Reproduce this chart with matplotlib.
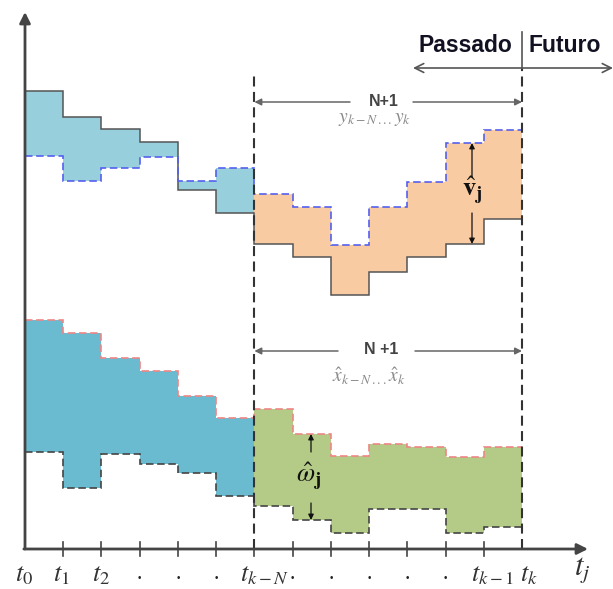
import numpy as np
import matplotlib
matplotlib.use("Agg")
import matplotlib.pyplot as plt

plt.rcParams['mathtext.fontset'] = 'stix'
plt.rcParams['font.family'] = ['Liberation Sans', 'DejaVu Sans']

# time steps t_0 ... t_k (interval edges), k-N at step 6
edges = np.arange(0, 14)
i_kN = 6
i_k = 13

# output signal: measured (solid) and estimated (blue dashed), per interval
y_meas = [458, 432, 420, 407, 359, 336, 305, 292, 254, 277, 292, 305, 330]
y_est = [393, 368, 381, 392, 368, 381, 355, 342, 304, 342, 367, 406, 419]

# state: upper (red dashed) and lower (dark dashed) bounds, per interval
x_upper = [229, 216, 191, 178, 153, 131, 140, 115, 93, 105, 102, 92, 102]
x_lower = [97, 61, 95, 85, 76, 53, 43, 29, 16, 40, 40, 16, 22]

tick_labels = ['$t_0$', '$t_1$', '$t_2$', '•', '•', '•', '$t_{k-N}$',
               '•', '•', '•', '•', '•', '$t_{k-1}$', '$t_k$']

# pixel -> data helpers (x: 38.23 px per step, y: 1 px per unit)
px = 38.23
W, H = 613, 589
x0_px, y0_px = 25, 549

fig = plt.figure(figsize=(W / 100, H / 100), dpi=100)
ax = fig.add_axes([0, 0, 1, 1])
ax.set_xlim(-x0_px / px, (W - x0_px) / px)
ax.set_ylim(y0_px - H, y0_px)
ax.axis('off')

y_meas = np.array(y_meas)
y_est = np.array(y_est)
x_upper = np.array(x_upper)
x_lower = np.array(x_lower)

past = slice(0, i_kN)
win = slice(i_kN, i_k)

# fills
ax.stairs(y_meas[past], edges[:i_kN + 1], baseline=y_est[past], fill=True,
          color='#97CFDD', lw=0)
ax.stairs(y_meas[win], edges[i_kN:], baseline=y_est[win], fill=True,
          color='#F9CBA3', lw=0)
ax.stairs(x_upper[past], edges[:i_kN + 1], baseline=x_lower[past], fill=True,
          color='#6BBBD0', lw=0)
ax.stairs(x_upper[win], edges[i_kN:], baseline=x_lower[win], fill=True,
          color='#B3CB87', lw=0)

# outlines
ax.stairs(y_meas, edges, baseline=None, color='#555555', lw=1.1)
ax.stairs(y_est, edges, baseline=None, color='#5560EE', lw=1.2,
          linestyle=(0, (4.5, 2.2)))
ax.stairs(x_upper, edges, baseline=None, color='#F08585', lw=1.2,
          linestyle=(0, (4.5, 2.2)))
ax.stairs(x_lower, edges, baseline=None, color='#444444', lw=1.2,
          linestyle=(0, (4.5, 2.2)))

# axes arrows
ax.annotate('', xy=(0, y0_px - 12), xytext=(0, 0),
            arrowprops=dict(arrowstyle='-|>', color='#444444', lw=2,
                            mutation_scale=16, shrinkA=0, shrinkB=0))
ax.annotate('', xy=((588 - x0_px) / px, 0), xytext=(-0.03, 0),
            arrowprops=dict(arrowstyle='-|>', color='#444444', lw=2,
                            mutation_scale=16, shrinkA=0, shrinkB=0))

# ticks and labels
label_shift = {6: -0.38, 12: -0.34, 13: -0.06}
for i in range(1, 13):
    ax.plot([i, i], [-7, 7], color='#444444', lw=1.2)
for i, lab in enumerate(tick_labels):
    if lab == '•':
        ax.text(i, -29, lab, ha='center', va='center', fontsize=7,
                color='#222222')
    else:
        ax.text(i + label_shift.get(i, -0.26), -26, lab, ha='left',
                va='center', fontsize=19, color='#333333')
ax.text((574 - x0_px) / px, -21, '$t_j$', ha='left', va='center',
        fontsize=22, color='#333333')

# vertical window lines
dash = (0, (4.8, 2.6))
ax.plot([i_kN, i_kN], [0, y0_px - 75], color='#333333', lw=1.5, linestyle=dash)
ax.plot([i_k, i_k], [0, y0_px - 68], color='#333333', lw=1.5, linestyle=dash)

# Passado | Futuro
ax.plot([i_k, i_k], [y0_px - 68, y0_px - 32], color='#555555', lw=1.2)
ax.text((465 - x0_px) / px, y0_px - 45, 'Passado', ha='center', va='center',
        fontsize=16.5, fontweight='bold', color='#111122')
ax.text((529 - x0_px) / px, y0_px - 45, 'Futuro', ha='left', va='center',
        fontsize=16.5, fontweight='bold', color='#111122')
for end_px in (413, 613):
    ax.annotate('', xy=((end_px - x0_px) / px, y0_px - 68), xytext=(i_k, y0_px - 68),
                arrowprops=dict(arrowstyle='->', color='#555555', lw=1.2,
                                mutation_scale=16, shrinkA=0, shrinkB=0))

# N+1 window arrows
grey_arrow = dict(arrowstyle='-|>', color='#666666', lw=1.1, mutation_scale=10,
                  shrinkA=0, shrinkB=0)
for yy, left_px, right_px, txt, cx_px in [(y0_px - 102, 350, 413, 'N+1', 384),
                                          (y0_px - 351, 338, 415, 'N +1', 381)]:
    ax.annotate('', xy=(i_kN, yy), xytext=((left_px - x0_px) / px, yy),
                arrowprops=grey_arrow)
    ax.annotate('', xy=(i_k, yy), xytext=((right_px - x0_px) / px, yy),
                arrowprops=grey_arrow)
    ax.text((cx_px - x0_px) / px, yy + 1, txt, ha='center', va='center',
            fontsize=11.5, fontweight='bold', color='#444444')

ax.text((375 - x0_px) / px, y0_px - 120, r'$y_{k-N\,...}y_k$', ha='center',
        va='center', fontsize=14, color='#888888')
ax.text((369 - x0_px) / px, y0_px - 376, r'$\hat{x}_{k-N\,...}\hat{x}_k$',
        ha='center', va='center', fontsize=14, color='#888888')

# noise annotations
black_arrow = dict(arrowstyle='-|>', color='#111111', lw=0.9, mutation_scale=8,
                   shrinkA=0, shrinkB=0)
xv = (472 - x0_px) / px
ax.annotate('', xy=(xv, y_est[11]), xytext=(xv, y0_px - 177), arrowprops=black_arrow)
ax.annotate('', xy=(xv, y_meas[11]), xytext=(xv, y0_px - 213), arrowprops=black_arrow)
ax.text(xv, y0_px - 190, r'$\hat{\mathbf{v}}_{\mathbf{j}}$', ha='center',
        va='center', fontsize=19, color='#111111')

xw = (311 - x0_px) / px
ax.annotate('', xy=(xw, x_upper[7]), xytext=(xw, y0_px - 452), arrowprops=black_arrow)
ax.annotate('', xy=(xw, x_lower[7]), xytext=(xw, y0_px - 503), arrowprops=black_arrow)
ax.text(xw - 0.05, y0_px - 476, r'$\hat{\omega}_{\mathbf{j}}$', ha='center',
        va='center', fontsize=19, color='#111111')

fig.savefig('out.png', dpi=100)
